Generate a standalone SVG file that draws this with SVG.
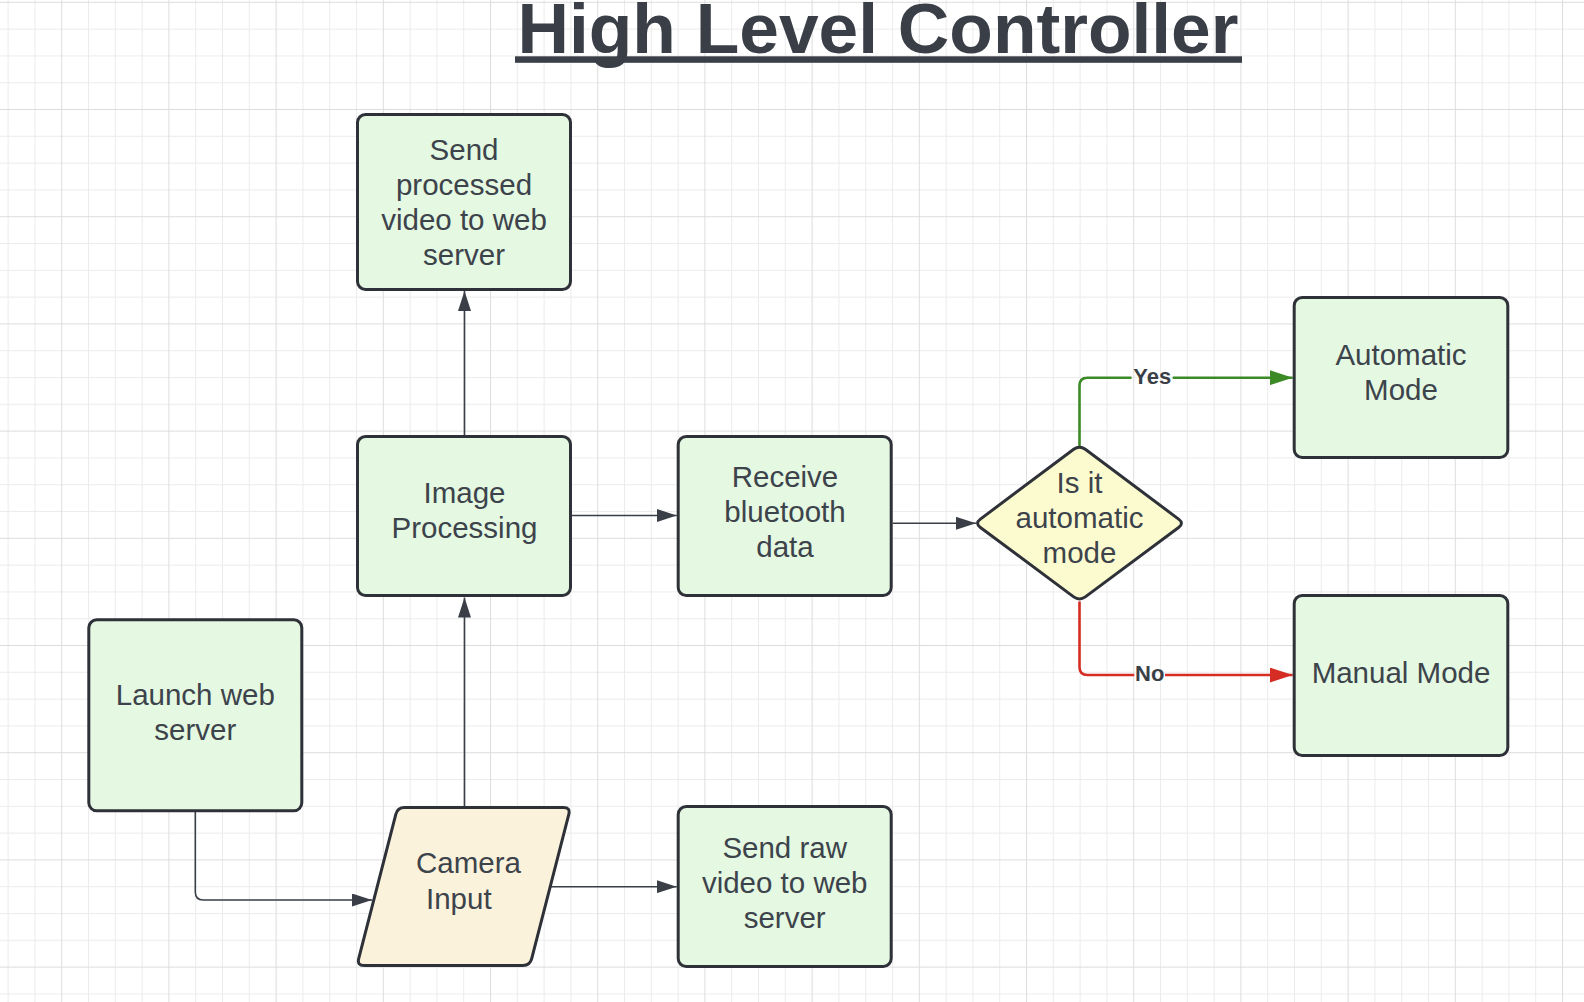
<svg xmlns="http://www.w3.org/2000/svg" width="1584" height="1002" viewBox="0 0 1584 1002">
<defs>
<style>
.box{fill:#e4f8e2;stroke:#2e3238;stroke-width:3}
.txt{font-family:"Liberation Sans",Arial,Helvetica,sans-serif;font-size:29.5px;fill:#3d434b;text-anchor:middle}
.conn{fill:none;stroke:#3a3f47;stroke-width:1.6}
.elbl{font-family:"Liberation Sans",Arial,Helvetica,sans-serif;font-size:22px;font-weight:bold;fill:#3a3f47;text-anchor:middle}
.title{font-family:"Liberation Sans",Arial,Helvetica,sans-serif;font-size:70.7px;font-weight:bold;fill:#3a3f47}
</style>
<pattern id="grid" patternUnits="userSpaceOnUse" x="61.2" y="1.8" width="107.2" height="107.2">
<rect x="0" y="0" width="107.2" height="107.2" fill="#ffffff"/>
<g fill="#ececec">
<rect x="26.8" y="0" width="1" height="107.2"/>
<rect x="53.6" y="0" width="1" height="107.2"/>
<rect x="80.4" y="0" width="1" height="107.2"/>
<rect x="0" y="26.8" width="107.2" height="1"/>
<rect x="0" y="53.6" width="107.2" height="1"/>
<rect x="0" y="80.4" width="107.2" height="1"/>
</g>
<g fill="#dddddd">
<rect x="0" y="0" width="1" height="107.2"/>
<rect x="0" y="0" width="107.2" height="1"/>
</g>
</pattern>
<marker id="arr" markerUnits="userSpaceOnUse" markerWidth="20" markerHeight="13" refX="20" refY="6.5" orient="auto">
<path d="M0,0 L20,6.5 L0,13 Z" fill="#3a3f47"/>
</marker>
<marker id="arrG" markerUnits="userSpaceOnUse" markerWidth="23" markerHeight="15" refX="23" refY="7.5" orient="auto">
<path d="M0,0 L23,7.5 L0,15 Z" fill="#3b8a26"/>
</marker>
<marker id="arrR" markerUnits="userSpaceOnUse" markerWidth="23" markerHeight="15" refX="23" refY="7.5" orient="auto">
<path d="M0,0 L23,7.5 L0,15 Z" fill="#d52d24"/>
</marker>
</defs>
<rect x="0" y="0" width="1584" height="1002" fill="#ffffff"/>
<rect x="0" y="0" width="1584" height="1002" fill="url(#grid)"/>

<g id="title">
<text class="title" x="517.5" y="52.5" textLength="721" lengthAdjust="spacingAndGlyphs">High Level Controller</text>
<rect x="515" y="56.3" width="727" height="6.5" fill="#3a3f47"/>
</g>

<g id="connectors">
<path class="conn" d="M464.5,435 L464.5,291" marker-end="url(#arr)"/>
<path class="conn" d="M464.5,806 L464.5,597.5" marker-end="url(#arr)"/>
<path class="conn" d="M572,515.5 L676.7,515.5" marker-end="url(#arr)"/>
<path class="conn" d="M892.7,523.3 L976,523.3" marker-end="url(#arr)"/>
<path class="conn" d="M548.5,886.7 L676.7,886.7" marker-end="url(#arr)"/>
<path class="conn" d="M195.3,812 L195.3,892 Q195.3,900 203.3,900 L372,900" marker-end="url(#arr)"/>
<path d="M1079.5,446 L1079.5,385.7 Q1079.5,377.7 1087.5,377.7 L1131.5,377.7 M1172.7,377.7 L1292.7,377.7" fill="none" stroke="#3b8a26" stroke-width="2.6" marker-end="url(#arrG)"/>
<path d="M1079.5,601.5 L1079.5,667 Q1079.5,675 1087.5,675 L1134.3,675 M1165,675 L1292.7,675" fill="none" stroke="#d52d24" stroke-width="2.6" marker-end="url(#arrR)"/>
<text class="elbl" x="1152.2" y="383.5">Yes</text>
<text class="elbl" x="1149.7" y="680.8">No</text>
</g>

<g id="node-send-processed">
<rect class="box" x="357.5" y="114.5" width="213" height="175" rx="8"/>
<text class="txt" x="464" y="160">Send</text>
<text class="txt" x="464" y="195">processed</text>
<text class="txt" x="464" y="230">video to web</text>
<text class="txt" x="464" y="265">server</text>
</g>

<g id="node-image-processing">
<rect class="box" x="357.5" y="436.5" width="213" height="159" rx="8"/>
<text class="txt" x="464.5" y="502.5">Image</text>
<text class="txt" x="464.5" y="537.5">Processing</text>
</g>

<g id="node-receive-bluetooth">
<rect class="box" x="678.2" y="436.5" width="213" height="159" rx="8"/>
<text class="txt" x="785" y="487">Receive</text>
<text class="txt" x="785" y="522">bluetooth</text>
<text class="txt" x="785" y="557">data</text>
</g>

<g id="node-decision">
<path d="M1085.3,449.3 L1178.6,519.1 Q1184.3,523.3 1178.6,527.5 L1085.3,596.9 Q1079.5,601.1 1073.7,596.9 L980.4,527.5 Q974.7,523.3 980.4,519.1 L1073.7,449.3 Q1079.5,445.1 1085.3,449.3 Z" fill="#fcfbd0" stroke="#2e3238" stroke-width="3"/>
<text class="txt" x="1079.5" y="493">Is it</text>
<text class="txt" x="1079.5" y="528">automatic</text>
<text class="txt" x="1079.5" y="563">mode</text>
</g>

<g id="node-automatic-mode">
<rect class="box" x="1294.2" y="297.5" width="213.6" height="160" rx="8"/>
<text class="txt" x="1401" y="365">Automatic</text>
<text class="txt" x="1401" y="400">Mode</text>
</g>

<g id="node-manual-mode">
<rect class="box" x="1294.2" y="595.5" width="213.6" height="160" rx="8"/>
<text class="txt" x="1401" y="683">Manual Mode</text>
</g>

<g id="node-launch-web-server">
<rect class="box" x="88.8" y="619.8" width="213" height="191" rx="8"/>
<text class="txt" x="195.3" y="704.5">Launch web</text>
<text class="txt" x="195.3" y="739.5">server</text>
</g>

<g id="node-camera-input">
<path d="M404.5,807.5 L563.5,807.5 Q570.5,807.5 568.8,814.3 L531.7,958.7 Q530,965.5 523,965.5 L364,965.5 Q357,965.5 358.7,958.7 L395.8,814.3 Q397.5,807.5 404.5,807.5 Z" fill="#fbf2dc" stroke="#2e3238" stroke-width="3"/>
<text class="txt" x="468.5" y="873.3">Camera</text>
<text class="txt" x="458.8" y="909">Input</text>
</g>

<g id="node-send-raw">
<rect class="box" x="678.2" y="806.5" width="213" height="160" rx="8"/>
<text class="txt" x="784.7" y="858.3">Send raw</text>
<text class="txt" x="784.7" y="893.3">video to web</text>
<text class="txt" x="784.7" y="928.3">server</text>
</g>
</svg>
